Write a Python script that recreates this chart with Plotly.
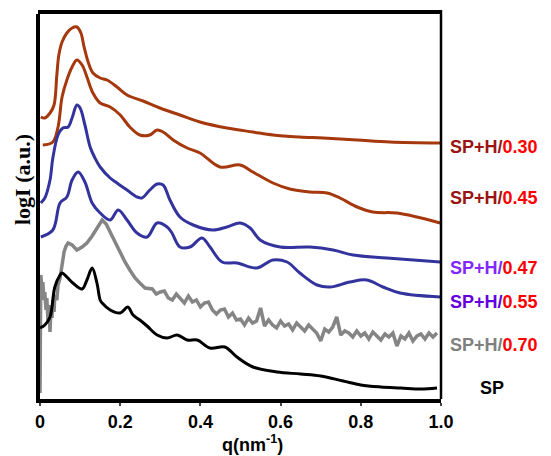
import plotly.graph_objects as go

# ---- data (q in nm^-1, log intensity in arbitrary offset units) ----
q_030 = [0.002,0.012,0.025,0.035,0.042,0.047,0.055,0.067,0.080,0.092,0.102,0.110,0.120,0.132,0.150,0.167,0.192,0.217,0.257,0.299,0.349,0.399,0.466,0.531,0.581,0.648,0.706,0.791,0.873,0.998]
y_030 = [282,281,286,294,324,344,357,366,371,372,366,352,337,326,321,319,312,304,298,291,284,277,271,267,264,262,261,259,257,256]

q_045 = [0.007,0.032,0.045,0.055,0.067,0.080,0.092,0.105,0.117,0.132,0.150,0.175,0.200,0.224,0.249,0.274,0.292,0.307,0.332,0.367,0.399,0.449,0.499,0.531,0.581,0.623,0.673,0.716,0.748,0.791,0.830,0.890,0.940,0.998]
y_045 = [254,257,272,302,319,332,339,334,322,306,296,292,284,272,264,264,269,267,259,251,246,232,234,227,216,210,207,206,201,192,187,186,182,176]

q_047 = [0.002,0.012,0.025,0.032,0.045,0.057,0.070,0.080,0.092,0.100,0.112,0.125,0.137,0.150,0.175,0.192,0.217,0.242,0.254,0.274,0.292,0.307,0.324,0.349,0.382,0.431,0.466,0.499,0.524,0.549,0.599,0.673,0.731,0.781,0.865,0.998]
y_047 = [196,201,219,241,264,271,272,281,294,291,274,252,241,232,221,216,209,202,201,209,215,214,199,182,174,169,172,176,171,159,152,152,149,144,141,137]

q_055 = [0.002,0.032,0.050,0.067,0.080,0.095,0.112,0.130,0.150,0.175,0.195,0.217,0.242,0.267,0.292,0.317,0.329,0.349,0.374,0.404,0.424,0.454,0.491,0.541,0.581,0.616,0.648,0.691,0.723,0.773,0.815,0.855,0.898,0.998]
y_055 = [162,169,196,202,219,227,217,196,186,179,189,179,166,162,176,172,166,152,152,161,152,137,136,131,139,137,126,114,112,117,119,112,106,102]

q_070 = [0.000,0.001,0.002,0.005,0.007,0.010,0.012,0.015,0.017,0.020,0.022,0.025,0.027,0.030,0.032,0.035,0.037,0.042,0.045,0.050,0.055,0.060,0.065,0.070,0.080,0.092,0.105,0.117,0.130,0.142,0.155,0.165,0.175,0.187,0.200,0.212,0.224,0.237,0.249,0.262,
         0.28,0.29,0.30,0.31,0.32,0.33,0.34,0.35,0.36,0.37,0.38,0.39,0.40,0.41,0.42,0.43,0.44,0.45,0.46,0.47,0.48,0.49,0.50,0.51,0.52,0.53,0.54,0.55,0.56,0.57,0.58,0.59,
         0.60,0.61,0.62,0.63,0.64,0.65,0.66,0.67,0.68,0.69,0.70,0.71,0.72,0.73,0.74,0.75,0.76,0.77,0.78,0.79,0.80,0.81,0.82,0.83,0.84,0.85,0.86,0.87,0.88,0.89,
         0.90,0.91,0.92,0.93,0.94,0.95,0.96,0.97,0.98,0.99]
y_070 = [6,60,124,109,117,99,107,89,101,77,94,67,89,81,99,87,104,99,114,121,137,147,153,156,154,149,152,156,163,171,179,175,167,156,146,137,129,121,116,111,
         110,105,107,108,101,99,105,100,96,103,97,99,92,96,97,89,85,89,90,82,86,79,80,74,81,76,78,91,73,79,74,71,
         78,73,75,69,76,72,68,74,70,66,58,70,67,72,82,64,68,66,62,68,63,66,60,67,63,59,65,62,66,53,
         63,60,66,58,63,65,60,66,62,66]

q_sp = [0.000,0.012,0.025,0.037,0.050,0.055,0.067,0.082,0.105,0.117,0.130,0.142,0.150,0.155,0.175,0.200,0.219,0.232,0.249,0.267,0.292,0.317,0.342,0.367,0.392,0.424,0.461,0.491,0.531,0.591,0.65,0.70,0.756,0.80,0.85,0.90,0.95,0.99]
y_sp = [71,74,82,112,124,126,122,116,110,119,131,116,99,96,89,86,92,84,79,73,64,61,64,59,59,51,52,42,32,27,25,23,18,14,12,11,10,11]

series = [
    ("SP+H/0.30", q_030, y_030, "#A5380C", 3, "spline"),
    ("SP+H/0.45", q_045, y_045, "#A5380C", 3, "spline"),
    ("SP+H/0.47", q_047, y_047, "#33339E", 3, "spline"),
    ("SP+H/0.55", q_055, y_055, "#33339E", 3, "spline"),
    ("SP+H/0.70", q_070, y_070, "#858585", 3.5, "linear"),
    ("SP", q_sp, y_sp, "#000000", 3, "spline"),
]

# label: (prefix, number, prefix colour, y position in data units)
labels = [
    ("SP+H/", "0.30", "#9B1414", 252),
    ("SP+H/", "0.45", "#9B1414", 201),
    ("SP+H/", "0.47", "#8228FF", 131),
    ("SP+H/", "0.55", "#6400DC", 97),
    ("SP+H/", "0.70", "#808080", 54),
]
x_ticks = [0, 0.2, 0.4, 0.6, 0.8, 1.0]
x_ticktext = ["0", "0.2", "0.4", "0.6", "0.8", "1.0"]

fig = go.Figure()
for name, q, y, col, w, shp in series:
    line = dict(color=col, width=w, shape=shp)
    if shp == "spline":
        line["smoothing"] = 1.0
    fig.add_trace(go.Scatter(x=q, y=y, mode="lines", name=name, line=line,
                             showlegend=False, hoverinfo="skip"))

ann = []
for pre, num, col, yv in labels:
    ann.append(dict(x=1.017, y=yv, xref="paper", yref="y", xanchor="left", yanchor="middle",
                    showarrow=False,
                    text=f"<b><span style='color:{col}'>{pre}</span><span style='color:#FF0000'>{num}</span></b>",
                    font=dict(family="Liberation Sans, Arial", size=18)))
ann.append(dict(x=(492 - 40) / 401, y=11, xref="paper", yref="y", xanchor="center", yanchor="middle",
                showarrow=False, text="<b>SP</b>",
                font=dict(family="Liberation Sans, Arial", size=18, color="black")))
ann.append(dict(x=(22 - 40) / 401, y=(399 - 180) / 385, xref="paper", yref="paper", textangle=-90,
                xanchor="center", yanchor="middle", showarrow=False, text="<b>logI (a.u.)</b>",
                font=dict(family="Liberation Serif, Times New Roman", size=22, color="black")))
ann.append(dict(x=(252 - 40) / 401, y=(399 - 457) / 385, xref="paper", yref="paper",
                xanchor="center", yanchor="bottom", showarrow=False, text="<b>q(nm<sup>-1</sup>)</b>",
                font=dict(family="Liberation Sans, Arial", size=18, color="black")))

fig.update_layout(
    width=551, height=456,
    margin=dict(l=40, r=110, t=14, b=57),
    paper_bgcolor="white", plot_bgcolor="white",
    annotations=ann,
    xaxis=dict(range=[0, 1.0], tickvals=x_ticks, ticktext=x_ticktext,
               showline=True, linecolor="black", linewidth=4, mirror=False,
               ticks="outside", ticklen=3, tickwidth=1.5, tickcolor="#444",
               showgrid=False, zeroline=False,
               tickfont=dict(family="Liberation Sans, Arial", size=18, color="black", weight="bold")),
    yaxis=dict(range=[0, 385], showline=True, linecolor="black", linewidth=4, mirror=False,
               showticklabels=False, ticks="", showgrid=False, zeroline=False),
    shapes=[dict(type="line", xref="paper", yref="paper", x0=1, x1=1, y0=0, y1=1,
                 line=dict(color="black", width=2.5)),
            dict(type="line", xref="paper", yref="paper", x0=-0.005, x1=1.003, y0=1.005, y1=1.005,
                 line=dict(color="black", width=4))],
)

fig.write_html("out.html", config={"displayModeBar": False},
               post_script="document.body.style.margin='0';")
